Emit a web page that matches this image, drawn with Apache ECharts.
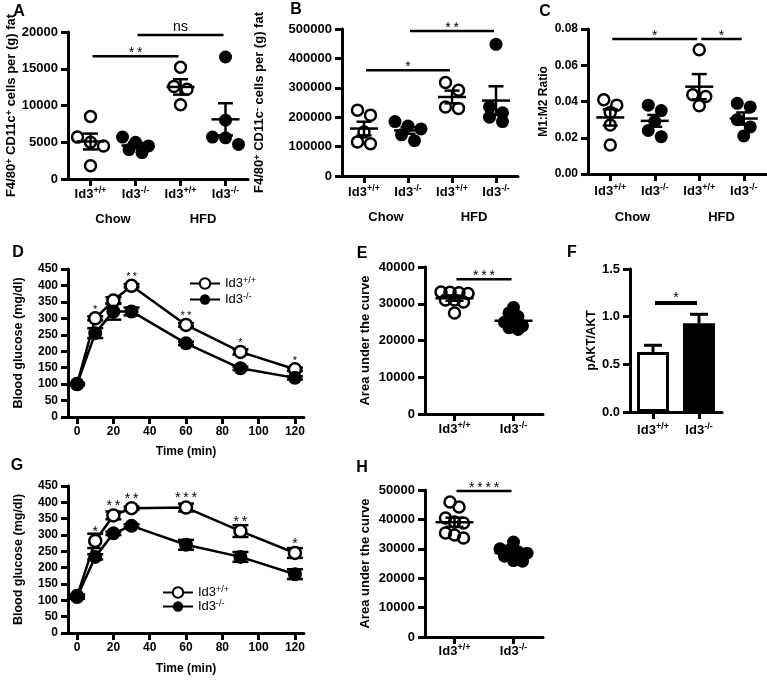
<!DOCTYPE html>
<html><head><meta charset="utf-8">
<script src="https://cdn.jsdelivr.net/npm/echarts@6/dist/echarts.min.js"></script>
<style>html,body{margin:0;padding:0;background:#fff}#c{width:767px;height:681px}</style>
</head><body><div id="c"></div>
<script>
// ================= DATA =================
const dotCats = ['Id3+/+', 'Id3-/-', 'Id3+/+', 'Id3-/-'];
const pairCats = ['Id3+/+', 'Id3-/-'];
const dietLabels = ['Chow', 'HFD'];
const legendNames = ['Id3+/+', 'Id3-/-'];

// Panel A: F4/80+ CD11c+ cells per (g) fat
const A_chowWT = [8500, 5700, 5000, 4500, 1800];
const A_chowKO = [5700, 5000, 4500, 4000, 3600];
const A_hfdWT  = [15200, 12600, 12200, 10100];
const A_hfdKO  = [16600, 8000, 5700, 5600, 4700];
const A_sig = [[0, 2, 16700], [1, 3, 19600]];
const A_sigText = ['**', 'ns'];

// Panel B: F4/80+ CD11c- cells per (g) fat
const B_chowWT = [224000, 207000, 150000, 116000, 110000];
const B_chowKO = [185000, 170000, 160000, 140000, 120000];
const B_hfdWT  = [318000, 292000, 235000, 230000];
const B_hfdKO  = [448000, 235000, 215000, 200000, 185000];
const B_sig = [[0, 2, 360000], [1, 3, 493000]];
const B_sigText = ['*', '**'];

// Panel C: M1:M2 ratio
const C_chowWT = [0.041, 0.038, 0.034, 0.027, 0.016];
const C_chowKO = [0.038, 0.035, 0.029, 0.024, 0.0206];
const C_hfdWT  = [0.0686, 0.0437, 0.0428, 0.0376];
const C_hfdKO  = [0.039, 0.037, 0.030, 0.026, 0.021];
const C_sig = [[0, 2, 0.0745], [2, 3, 0.0745]];
const C_sigText = ['*', '*'];

// Panel D: GTT
const timeMin = [0, 10, 20, 30, 60, 90, 120];
const timeTicks = [0, 20, 40, 60, 80, 100, 120];
const D_wt = [100, 300, 354, 399, 280, 198, 145];
const D_wtSem = [3, 6, 10, 5, 5, 8, 5];
const D_ko = [100, 255, 321, 321, 224, 148, 119];
const D_koSem = [3, 15, 25, 12, 5, 5, 5];
const D_stars = ['', '*', '', '**', '**', '*', '*'];

// Panel E: AUC
const E_wt = [33000, 33200, 32800, 33100, 31000, 30500, 31000, 27500];
const E_ko = [29000, 27500, 26500, 25000, 24500, 23500, 23000, 24000];
const E_sig = [[0, 1, 36700]];
const E_sigText = ['***'];

// Panel F: pAKT/AKT
const F_mean = [0.63, 0.93];
const F_sem = [0.07, 0.095];
const F_sig = [[0, 1, 1.143]];
const F_sigText = ['*'];

// Panel G: ITT
const G_wt = [113, 282, 360, 382, 384, 312, 245];
const G_wtSem = [5, 22, 12, 5, 12, 18, 15];
const G_ko = [110, 233, 305, 328, 270, 233, 180];
const G_koSem = [5, 8, 5, 5, 15, 15, 15];
const G_stars = ['', '*', '**', '**', '***', '**', '*'];

// Panel H: AUC
const H_wt = [44200, 45900, 40500, 39100, 38800, 35400, 33700, 34700];
const H_ko = [32300, 30000, 29500, 29000, 28500, 27500, 26000, 25800];
const H_sig = [[0, 1, 49700]];
const H_sigText = ['****'];

// ================= STYLE / HELPERS =================
const FONT = 'Liberation Sans';
const BLACK = '#000';
function supRich(s) {
  const m = s.match(/^(Id3)(.*)$/);
  return m ? '{b|' + m[1] + '}{s|' + m[2] + '}' : s;
}
const catRich = {
  b: {fontFamily: FONT, fontWeight: 'bold', fontSize: 13, color: BLACK, lineHeight: 16},
  s: {fontFamily: FONT, fontWeight: 'bold', fontSize: 9, color: BLACK, lineHeight: 10, verticalAlign: 'top'}
};
const legendRich = {
  b: {fontFamily: FONT, fontSize: 13, color: BLACK, lineHeight: 15},
  s: {fontFamily: FONT, fontSize: 9, color: BLACK, lineHeight: 9, verticalAlign: 'top'}
};
const nameRich = {
  s: {fontFamily: FONT, fontWeight: 'bold', fontSize: 9, color: BLACK, lineHeight: 9, verticalAlign: 'top'}
};
const mean = a => a.reduce((p, c) => p + c, 0) / a.length;
const sem = a => { const m = mean(a); return Math.sqrt(a.reduce((p, c) => p + (c - m) * (c - m), 0) / (a.length - 1)) / Math.sqrt(a.length); };

const grids = [
  {left: 68, top: 32, width: 180, height: 147},   // A
  {left: 342, top: 29, width: 176, height: 147},  // B
  {left: 588, top: 29, width: 178, height: 145},  // C
  {left: 68, top: 269, width: 236, height: 148},  // D
  {left: 425, top: 267, width: 118, height: 147}, // E
  {left: 630, top: 269, width: 92, height: 143},  // F
  {left: 68, top: 486, width: 236, height: 147},  // G
  {left: 425, top: 490, width: 118, height: 147}  // H
].map(g => Object.assign({outerBoundsMode: 'none', containLabel: false}, g));

const axLine = {show: true, onZero: false, lineStyle: {color: BLACK, width: 3}};
const axTick = {show: true, length: 7, lineStyle: {color: BLACK, width: 3}};

function yAx(gi, min, max, interval, name, nameGap, fmt, fs, nfs) {
  return {
    type: 'value', gridIndex: gi, min, max, interval,
    name, nameLocation: 'middle', nameGap,
    nameTextStyle: {fontFamily: FONT, fontWeight: 'bold', fontSize: nfs || 13, color: BLACK, rich: nameRich},
    axisLine: axLine, axisTick: axTick,
    axisLabel: {margin: 10, color: BLACK, fontFamily: FONT, fontWeight: 'bold', fontSize: fs || 13, formatter: fmt || (v => String(v))},
    splitLine: {show: false}
  };
}
function catAx(gi, cats, margin) {
  return {
    type: 'category', gridIndex: gi, data: cats.map((c, i) => String(i)), boundaryGap: true,
    axisLine: axLine, axisTick: Object.assign({alignWithLabel: true, interval: 0}, axTick),
    axisLabel: {interval: 0, margin: margin, formatter: (v, i) => supRich(cats[i]), rich: catRich},
    splitLine: {show: false}
  };
}
function timeAx(gi, nameGap) {
  return {
    type: 'value', gridIndex: gi, min: -5, max: 125,
    name: 'Time (min)', nameLocation: 'middle', nameGap,
    nameTextStyle: {fontFamily: FONT, fontWeight: 'bold', fontSize: 12, color: BLACK},
    axisLine: axLine,
    axisTick: Object.assign({customValues: timeTicks}, axTick),
    axisLabel: {customValues: timeTicks, margin: 9, color: BLACK, fontFamily: FONT, fontWeight: 'bold', fontSize: 12, formatter: v => String(v)},
    splitLine: {show: false}
  };
}
function dietAx(gi, margin) {
  return {
    type: 'category', gridIndex: gi, data: dietLabels, position: 'bottom', boundaryGap: true,
    axisLine: {show: false}, axisTick: {show: false}, splitLine: {show: false},
    axisLabel: {interval: 0, margin, color: BLACK, fontFamily: FONT, fontWeight: 'bold', fontSize: 13}
  };
}

const xAxes = [
  catAx(0, dotCats, 7), catAx(1, dotCats, 8), catAx(2, dotCats, 9),
  timeAx(3, 29), catAx(4, pairCats, 7), catAx(5, pairCats, 10),
  timeAx(6, 30), catAx(7, pairCats, 6),
  dietAx(0, 34), dietAx(1, 35), dietAx(2, 37)
];
const yAxes = [
  yAx(0, 0, 20000, 5000, 'F4/80{s|+} CD11c{s|+} cells per (g) fat', 50),
  yAx(1, 0, 500000, 100000, 'F4/80{s|+} CD11c{s|-} cells per (g) fat', 76),
  yAx(2, 0, 0.08, 0.02, 'M1:M2 Ratio', 38, v => v.toFixed(2), 12, 12),
  yAx(3, 0, 450, 50, 'Blood glucose (mg/dl)', 43, null, 12, 12.5),
  yAx(4, 0, 40000, 10000, 'Area under the curve', 53),
  yAx(5, 0, 1.5, 0.5, 'pAKT/AKT', 31, v => v.toFixed(1), 13, 12),
  yAx(6, 0, 450, 50, 'Blood glucose (mg/dl)', 43, null, 12, 12.5),
  yAx(7, 0, 50000, 10000, 'Area under the curve', 53)
];

const series = [];
const dotGroups = [];
function addDots(gi, groups, opts) {
  groups.forEach((vals, ci) => {
    const open = ci % 2 === 0;
    const id = 'dot_' + gi + '_' + ci;
    dotGroups.push({id, gi, ci, vals, tol: opts.tol, spacing: opts.spacing});
    series.push({
      id, type: 'scatter', xAxisIndex: gi, yAxisIndex: gi, silent: true, z: 3,
      symbol: 'circle', symbolSize: open ? 11 : 13,
      itemStyle: open ? {color: 'rgba(0,0,0,0)', borderColor: BLACK, borderWidth: 2.5, opacity: 1} : {color: BLACK, opacity: 1},
      data: vals.map(v => [ci, v])
    });
  });
  series.push({
    type: 'custom', xAxisIndex: gi, yAxisIndex: gi, silent: true, z: 5,
    data: groups.map((g, ci) => [ci, mean(g), sem(g)]),
    renderItem: (p, api) => {
      const x = api.value(0), m = api.value(1), s = api.value(2);
      const pm = api.coord([x, m]), pt = api.coord([x, m + s]), pb = api.coord([x, m - s]);
      const st = {stroke: BLACK, lineWidth: 2.5};
      const mw = opts.meanW / 2, cw = opts.capW / 2;
      return {type: 'group', children: [
        {type: 'line', shape: {x1: pm[0] - mw, y1: pm[1], x2: pm[0] + mw, y2: pm[1]}, style: st},
        {type: 'line', shape: {x1: pm[0], y1: pt[1], x2: pm[0], y2: pb[1]}, style: st},
        {type: 'line', shape: {x1: pm[0] - cw, y1: pt[1], x2: pm[0] + cw, y2: pt[1]}, style: st},
        {type: 'line', shape: {x1: pm[0] - cw, y1: pb[1], x2: pm[0] + cw, y2: pb[1]}, style: st}
      ]};
    }
  });
}
function addSig(gi, data, texts, o) {
  o = Object.assign({lw: 2.5, fs: 14, starGap: 3, textGap: 8}, o || {});
  series.push({
    type: 'custom', xAxisIndex: gi, yAxisIndex: gi, silent: true, z: 6,
    encode: {x: [0, 1], y: 2}, data,
    renderItem: (p, api) => {
      const y = api.value(2);
      const a = api.coord([api.value(0), y]), b = api.coord([api.value(1), y]);
      const t = texts[p.dataIndex];
      const star = t.indexOf('*') >= 0;
      return {type: 'group', children: [
        {type: 'line', shape: {x1: a[0] + 2, y1: a[1], x2: b[0] - 2, y2: a[1]}, style: {stroke: BLACK, lineWidth: o.lw}},
        {type: 'text', style: {text: star ? t.split('').join('\u2009') : t, x: (a[0] + b[0]) / 2, y: a[1] - (star ? o.starGap : o.textGap),
          align: 'center', verticalAlign: 'middle', fontFamily: FONT, fontSize: o.fs, fill: BLACK}}
      ]};
    }
  });
}
function addTime(gi, wt, wtSem, ko, koSem, stars, starFs, rise) {
  const errRender = (p, api) => {
    const t = api.value(0), m = api.value(1), s = api.value(2);
    const pt = api.coord([t, m + s]), pb = api.coord([t, m - s]);
    const st = {stroke: BLACK, lineWidth: 2.5};
    return {type: 'group', children: [
      {type: 'line', shape: {x1: pt[0], y1: pt[1], x2: pb[0], y2: pb[1]}, style: st},
      {type: 'line', shape: {x1: pt[0] - 8, y1: pt[1], x2: pt[0] + 8, y2: pt[1]}, style: st},
      {type: 'line', shape: {x1: pb[0] - 8, y1: pb[1], x2: pb[0] + 8, y2: pb[1]}, style: st}
    ]};
  };
  series.push({type: 'custom', xAxisIndex: gi, yAxisIndex: gi, silent: true, z: 1, data: timeMin.map((t, i) => [t, wt[i], wtSem[i]]), renderItem: errRender});
  series.push({type: 'custom', xAxisIndex: gi, yAxisIndex: gi, silent: true, z: 1, data: timeMin.map((t, i) => [t, ko[i], koSem[i]]), renderItem: errRender});
  series.push({
    name: legendNames[0], type: 'line', xAxisIndex: gi, yAxisIndex: gi, z: 3, silent: true,
    symbol: 'circle', symbolSize: 12, showAllSymbol: true,
    lineStyle: {color: BLACK, width: 2.5},
    itemStyle: {color: '#fff', borderColor: BLACK, borderWidth: 2.5, opacity: 1},
    data: timeMin.map((t, i) => [t, wt[i]])
  });
  series.push({
    name: legendNames[1], type: 'line', xAxisIndex: gi, yAxisIndex: gi, z: 4, silent: true,
    symbol: 'circle', symbolSize: 14, showAllSymbol: true,
    lineStyle: {color: BLACK, width: 2.5},
    itemStyle: {color: BLACK, borderColor: BLACK, borderWidth: 0, opacity: 1},
    data: timeMin.map((t, i) => [t, ko[i]])
  });
  series.push({
    type: 'custom', xAxisIndex: gi, yAxisIndex: gi, silent: true, z: 6,
    data: timeMin.map((t, i) => [t, wt[i]]),
    renderItem: (p, api) => {
      const s = stars[p.dataIndex];
      if (!s) return null;
      const c = api.coord([api.value(0), api.value(1)]);
      return {type: 'text', style: {text: s.split('').join('\u2009'), x: c[0], y: c[1] - rise + 0.22 * starFs,
        align: 'center', verticalAlign: 'middle', fontFamily: FONT, fontSize: starFs, fill: BLACK}};
    }
  });
}

// A, B, C
addDots(0, [A_chowWT, A_chowKO, A_hfdWT, A_hfdKO], {tol: 9, spacing: 13, meanW: 28, capW: 15});
addSig(0, A_sig, A_sigText);
addDots(1, [B_chowWT, B_chowKO, B_hfdWT, B_hfdKO], {tol: 9, spacing: 13, meanW: 28, capW: 15});
addSig(1, B_sig, B_sigText);
addDots(2, [C_chowWT, C_chowKO, C_hfdWT, C_hfdKO], {tol: 9, spacing: 13, meanW: 28, capW: 15});
addSig(2, C_sig, C_sigText);
// D
addTime(3, D_wt, D_wtSem, D_ko, D_koSem, D_stars, 11, 11);
// E
addDots(4, [E_wt, E_ko], {tol: 5, spacing: 9, meanW: 38, capW: 18});
addSig(4, E_sig, E_sigText);
// F
series.push({
  type: 'bar', xAxisIndex: 5, yAxisIndex: 5, barWidth: 32, z: 2, silent: true,
  data: F_mean.map((m, i) => ({value: m, itemStyle: i === 0 ? {color: '#fff', borderColor: BLACK, borderWidth: 3, opacity: 1} : {color: BLACK, borderColor: BLACK, borderWidth: 3, opacity: 1}}))
});
series.push({
  type: 'custom', xAxisIndex: 5, yAxisIndex: 5, silent: true, z: 1,
  data: F_mean.map((m, i) => [i, m, F_sem[i]]),
  renderItem: (p, api) => {
    const x = api.value(0), m = api.value(1), s = api.value(2);
    const pm = api.coord([x, m]), pt = api.coord([x, m + s]);
    const st = {stroke: BLACK, lineWidth: 3};
    return {type: 'group', children: [
      {type: 'line', shape: {x1: pm[0], y1: pm[1], x2: pm[0], y2: pt[1]}, style: st},
      {type: 'line', shape: {x1: pm[0] - 9, y1: pt[1], x2: pm[0] + 9, y2: pt[1]}, style: st}
    ]};
  }
});
addSig(5, F_sig, F_sigText, {lw: 4, starGap: 5});
// G
addTime(6, G_wt, G_wtSem, G_ko, G_koSem, G_stars, 14, 12);
// H
addDots(7, [H_wt, H_ko], {tol: 5, spacing: 9, meanW: 38, capW: 18});
addSig(7, H_sig, H_sigText);

const legendBase = {
  data: legendNames, orient: 'vertical', itemWidth: 30, itemHeight: 13, padding: 0,
  selectedMode: false, formatter: n => supRich(n), textStyle: {rich: legendRich, fontFamily: FONT, fontSize: 13, color: BLACK}
};

const letters = [['A', 19, 12], ['B', 296, 10], ['C', 545, 12], ['D', 18, 253], ['E', 362, 254], ['F', 572, 253], ['G', 17, 466], ['H', 362, 468]];

const option = {
  backgroundColor: '#fff',
  animation: false,
  grid: grids,
  xAxis: xAxes,
  yAxis: yAxes,
  legend: [
    Object.assign({left: 189, top: 276, itemGap: 2}, legendBase),
    Object.assign({left: 162, top: 585, itemGap: 0}, legendBase)
  ],
  graphic: letters.map(l => ({type: 'text', silent: true, style: {text: l[0], x: l[1], y: l[2], align: 'center', verticalAlign: 'middle', fontFamily: FONT, fontWeight: 'bold', fontSize: 16, fill: BLACK}})),
  series
};

const chart = echarts.init(document.getElementById('c'), null, {renderer: 'canvas', width: 767, height: 681});
chart.setOption(option);

// swarm layout of dots: group points of similar height into rows, centre each row
function rowOffsets(pys, tol, spacing) {
  const idx = pys.map((p, i) => i).sort((a, b) => pys[a] - pys[b]);
  const offs = new Array(pys.length).fill(0);
  let row = [];
  const flush = () => {
    row.forEach((ii, k) => { offs[ii] = (k - (row.length - 1) / 2) * spacing; });
    row = [];
  };
  idx.forEach(i => {
    if (row.length && Math.abs(pys[i] - pys[row[0]]) > tol) flush();
    row.push(i);
  });
  flush();
  return offs;
}
const upd = dotGroups.map(g => {
  const pys = g.vals.map(v => chart.convertToPixel({seriesId: g.id}, [g.ci, v])[1]);
  const offs = rowOffsets(pys, g.tol, g.spacing);
  return {id: g.id, data: g.vals.map((v, i) => ({value: [g.ci, v], symbolOffset: [offs[i], 0]}))};
});
chart.setOption({series: upd});
</script>
</body></html>
